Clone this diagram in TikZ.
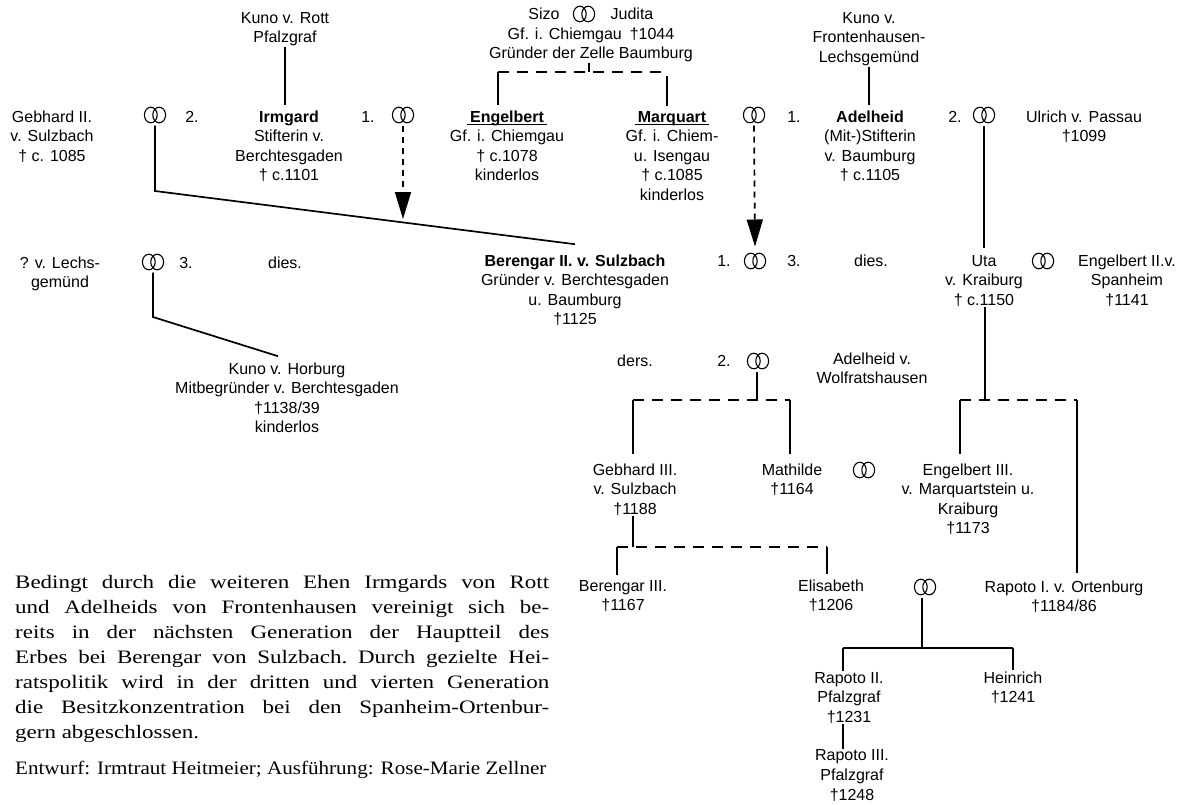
\documentclass[tikz,border=0pt]{standalone}
\usepackage{fontspec}
\setmainfont{Liberation Sans}
\newfontfamily\serifpara[FakeStretch=1.21]{Liberation Serif}
\newfontfamily\serifcred[FakeStretch=1.11]{Liberation Serif}
\usetikzlibrary{arrows.meta,calc}
\newcommand\ulname[1]{\setbox0=\hbox{\textbf{\,#1\,}}\rlap{\rule[-3pt]{\wd0}{1.3pt}}\box0}
\begin{document}
\begin{tikzpicture}[x=1pt,y=-1pt,
  person/.style={align=center, font=\fontsize{16}{19.6}\selectfont, inner sep=1pt, anchor=base},
  ordnum/.style={font=\fontsize{16}{19.6}\selectfont, inner sep=1pt, anchor=base},
  ringnode/.style={inner sep=0pt, minimum width=22pt, minimum height=17pt, outer sep=2pt},
  ringline/.style={line width=1.1pt},
  tree/.style={line width=1.7pt},
  dtree/.style={line width=1.7pt, dash pattern=on 11pt off 8pt},
  darrow/.style={line width=1.7pt, dash pattern=on 6pt off 5pt, -{Triangle[width=16pt,length=27pt]}},
  para/.style={font=\serifpara\fontsize{19}{25}\selectfont, text width=534pt, align=justify, inner sep=0pt},
  credit/.style={font=\serifcred\fontsize{19}{25}\selectfont, inner sep=0pt}
]
\fill[white] (0,0) rectangle (1178,804);
\useasboundingbox (0,0) rectangle (1178,804);

% (the base anchor of a multi-line node is the baseline of its last line)
% ---------- top row ----------
\node[person] (kunoR) at (285,42.6) {Kuno v. Rott\\Pfalzgraf};
\node[person] (irm) at (289,180.8) {\textbf{Irmgard}\\Stifterin v.\\Berchtesgaden\\† c.1101};
\node[person] (geb2) at (52,161.2) {Gebhard II.\\v. Sulzbach\\† c. 1085};
\node[ringnode] (rA) at (155,115) {};
\node[ordnum] (o2a) at (192,122) {2.};
\node[ordnum] (o1a) at (368,122) {1.};
\node[ringnode] (rB) at (403,115) {};
\node[person] (sizo) at (544,19) {Sizo};
\node[ringnode] (rS) at (584,14) {};
\node[person] (judita) at (632,19) {Judita};
\node[person] (gf) at (591,58.6) {Gf. i. Chiemgau\hspace{0.5em}†1044\\Gründer der Zelle Baumburg};
\node[person] (engel) at (507,180.8) {\ulname{Engelbert}\\Gf. i. Chiemgau\\† c.1078\\kinderlos};
\node[person] (marq) at (672,200.4) {\ulname{Marquart}\\Gf. i. Chiem-\\u. Isengau\\† c.1085\\kinderlos};
\node[ringnode] (rC) at (754,115) {};
\node[ordnum] (o1c) at (794,122) {1.};
\node[person] (kunoF) at (869,62.2) {Kuno v.\\Frontenhausen-\\Lechsgemünd};
\node[person] (adel) at (870,180.8) {\textbf{Adelheid}\\(Mit-)Stifterin\\v. Baumburg\\† c.1105};
\node[ordnum] (o2e) at (955,122) {2.};
\node[ringnode] (rE) at (984,115) {};
\node[person] (ulrich) at (1084,141.6) {Ulrich v. Passau\\†1099};

% ---------- second row ----------
\node[person] (lechs) at (60,287.6) {? v. Lechs-\\gemünd};
\node[ringnode] (rF) at (153,262) {};
\node[ordnum] (o3f) at (186,268) {3.};
\node[ordnum] (dies1) at (285,268) {dies.};
\node[person] (beren) at (575,324.8) {\textbf{Berengar II. v. Sulzbach}\\Gründer v. Berchtesgaden\\u. Baumburg\\†1125};
\node[ordnum] (o1d) at (724,266) {1.};
\node[ringnode] (rD) at (755,261) {};
\node[ordnum] (o3d) at (794,266) {3.};
\node[ordnum] (dies2) at (871,266) {dies.};
\node[person] (uta) at (984,305.2) {Uta\\v. Kraiburg\\† c.1150};
\node[ringnode] (rU) at (1043,261) {};
\node[person] (engel2) at (1127,305.2) {Engelbert II.v.\\Spanheim\\†1141};

% ---------- third row ----------
\node[person] (horb) at (287,432.8) {Kuno v. Horburg\\Mitbegründer v. Berchtesgaden\\†1138/39\\kinderlos};
\node[ordnum] (ders) at (635,366) {ders.};
\node[ordnum] (o2g) at (724,366) {2.};
\node[ringnode] (rG) at (758,361) {};
\node[person] (adelW) at (872,383.6) {Adelheid v.\\Wolfratshausen};

% ---------- fourth row ----------
\node[person] (geb3) at (635,514.2) {Gebhard III.\\v. Sulzbach\\†1188};
\node[person] (math) at (792,494.6) {Mathilde\\†1164};
\node[ringnode] (rM) at (864,470) {};
\node[person] (engel3) at (968,533.8) {Engelbert III.\\v. Marquartstein u.\\Kraiburg\\†1173};

% ---------- fifth row ----------
\node[person] (beren3) at (623,610.6) {Berengar III.\\†1167};
\node[person] (elis) at (831,610.6) {Elisabeth\\†1206};
\node[ringnode] (rH) at (925,587) {};
\node[person] (rap1) at (1064,611.6) {Rapoto I. v. Ortenburg\\†1184/86};

% ---------- sixth row ----------
\node[person] (rap2) at (849,722.2) {Rapoto II.\\Pfalzgraf\\†1231};
\node[person] (hein) at (1013,702.6) {Heinrich\\†1241};
\node[person] (rap3) at (852,800) {Rapoto III.\\Pfalzgraf\\†1248};

% ---------- rings ----------
\foreach \r in {rA,rB,rS,rC,rE,rF,rD,rU,rG,rM,rH}
  \draw[ringline] ($(\r.center)+(-4.2,0)$) ellipse [x radius=6.4pt, y radius=7.8pt]
                  ($(\r.center)+(4.2,0)$) ellipse [x radius=6.4pt, y radius=7.8pt];

% ---------- connectors ----------
\draw[tree] (kunoR.south) -- ($(kunoR.south |- irm.north)+(0,-4)$);
\coordinate (cA) at (155,191);
\draw[tree] (rA.south) -- (cA) -- ($(beren.north)+(0,-9)$);
\coordinate (tipB) at (403,219);
\draw[darrow] (rB.south) -- (tipB);

\coordinate (jS) at (589,72);
\coordinate (jSl) at (498,72);
\coordinate (jSr) at (667,72);
\draw[tree] (gf.south -| jS) -- (jS);
\draw[dtree] (jSl) -- (jSr);
\draw[tree] (jSl) -- ($(jSl |- engel.north)+(0,-4)$);
\draw[tree] ($(jSr)+(0,4)$) -- ($(jSr |- marq.north)+(0,-4)$);

\draw[darrow] (rC.south) -- ($(rD.north)+(0,-4)$);
\draw[tree] (kunoF.south) -- ($(kunoF.south |- adel.north)+(0,-4)$);
\draw[tree] (rE.south) -- ($(rE.south |- uta.north)+(0,-6)$);

\coordinate (cF) at (153,317);
\draw[tree] (rF.south) -- (cF) -- ($(horb.north)+(-9,-5)$);

\coordinate (jG) at (757,400);
\coordinate (jGl) at (633,400);
\coordinate (jGr) at (790,400);
\draw[tree] (rG.south -| jG) -- (jG);
\draw[dtree] (jGl) -- (jGr);
\draw[tree] (jGl) -- ($(jGl |- geb3.north)+(0,-8)$);
\draw[tree] (jGr) -- ($(jGr |- math.north)+(0,-8)$);

\coordinate (jU) at (985,400);
\coordinate (jUl) at (960,400);
\coordinate (jUr) at (1077,400);
\draw[tree] (uta.south -| jU) -- (jU);
\draw[dtree] (jUl) -- (jUr);
\draw[tree] (jUl) -- ($(jUl |- engel3.north)+(0,-8)$);
\draw[tree] (jUr) -- ($(jUr |- rap1.north)+(0,-6)$);

\coordinate (jB) at (633,547);
\coordinate (jBl) at (617,547);
\coordinate (jBr) at (827,547);
\draw[tree] (geb3.south -| jB) -- (jB);
\draw[dtree] (jBl) -- (jBr);
\draw[tree] (jBl) -- ($(jBl |- beren3.north)+(0,-4)$);
\draw[tree] (jBr) -- ($(jBr |- elis.north)+(0,-4)$);

\coordinate (jR) at (922,648);
\coordinate (jRl) at (843,648);
\coordinate (jRr) at (1013,648);
\draw[tree] (rH.south -| jR) -- (jR);
\draw[tree] (jRl) -- (jRr);
\draw[tree] (jRl) -- (jRl |- rap2.north);
\draw[tree] (jRr) -- (jRr |- hein.north);
\draw[tree] (rap2.south -| jRl) -- (jRl |- rap3.north);

% ---------- text ----------
\node[para, anchor=base west] (txt) at (15,588) {\tolerance=10000\hbadness=10000\exhyphenpenalty=10000\hyphenpenalty=10000\frenchspacing
Bedingt durch die weiteren Ehen Irmgards von Rott\linebreak
und Adelheids von Frontenhausen vereinigt sich be-\linebreak
reits in der nächsten Generation der Hauptteil des\linebreak
Erbes bei Berengar von Sulzbach. Durch gezielte Hei-\linebreak
ratspolitik wird in der dritten und vierten Generation\linebreak
die Besitzkonzentration bei den Spanheim-Ortenbur-\linebreak
gern abgeschlossen.};
\node[credit, anchor=base west] (cred) at (15,774) {Entwurf: Irmtraut Heitmeier; Ausführung: Rose-Marie Zellner};
\end{tikzpicture}
\end{document}
